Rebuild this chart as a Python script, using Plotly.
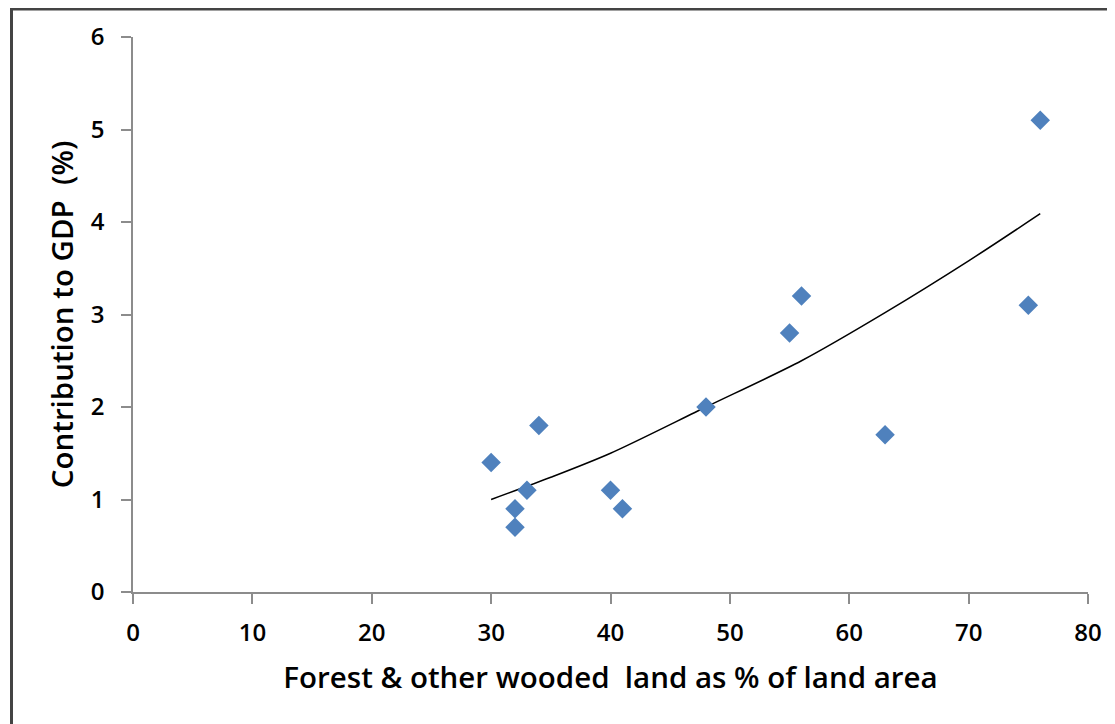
import plotly.graph_objects as go

# Data
forest_pct = [30, 32, 32, 33, 34, 40, 41, 48, 55, 56, 63, 75, 76]
gdp_pct = [1.4, 0.9, 0.7, 1.1, 1.8, 1.1, 0.9, 2.0, 2.8, 3.2, 1.7, 3.1, 5.1]

# Trendline as drawn in the chart
trend_x = [30, 35, 40, 48, 56, 63, 70, 76]
trend_y = [1.0, 1.24, 1.5, 2.0, 2.5, 3.02, 3.58, 4.09]

x_ticks = [0, 10, 20, 30, 40, 50, 60, 70, 80]
y_ticks = [0, 1, 2, 3, 4, 5, 6]

FONT = "Open Sans"

fig = go.Figure()
fig.add_trace(go.Scatter(
    x=trend_x, y=trend_y, mode="lines",
    line=dict(color="black", width=1.5, shape="spline", smoothing=0.8),
    hoverinfo="skip", showlegend=False,
))
fig.add_trace(go.Scatter(
    x=forest_pct, y=gdp_pct, mode="markers",
    marker=dict(symbol="diamond", size=15, color="#4F81BD"),
    showlegend=False,
))

axis_common = dict(
    showgrid=False, zeroline=False, showline=True, linecolor="#8c8c8c", linewidth=1.5,
    ticks="outside", ticklen=10, tickcolor="#8c8c8c", tickwidth=1.5,
    tickfont=dict(family=FONT, size=24, color="black", weight=600),
    mirror=False,
)

fig.update_xaxes(
    range=[0, 80], tickvals=x_ticks, ticklabelstandoff=8,
    title=dict(text="Forest & other wooded  land as % of land area",
               font=dict(family=FONT, size=29.5, color="black", weight=600), standoff=21),
    **axis_common,
)
fig.update_yaxes(
    range=[0, 6], tickvals=y_ticks, ticklabelstandoff=12,
    title=dict(text="Contribution to GDP  (%)",
               font=dict(family=FONT, size=29.5, color="black", weight=600), standoff=8),
    **axis_common,
)

# Outer border of the chart area (page has an 8px body margin)
fig.add_shape(type="rect", xref="paper", yref="paper",
              x0=(3.5 - 125) / 955, y0=-0.4, x1=1.2, y1=(584 - 1) / 555,
              line=dict(color="#444444", width=3), fillcolor="rgba(0,0,0,0)", layer="below")

fig.update_layout(
    width=1107, height=716,
    margin=dict(l=125, r=27, t=29, b=132),
    plot_bgcolor="white", paper_bgcolor="white",
    font=dict(family=FONT),
)

fig.write_html("out.html")
